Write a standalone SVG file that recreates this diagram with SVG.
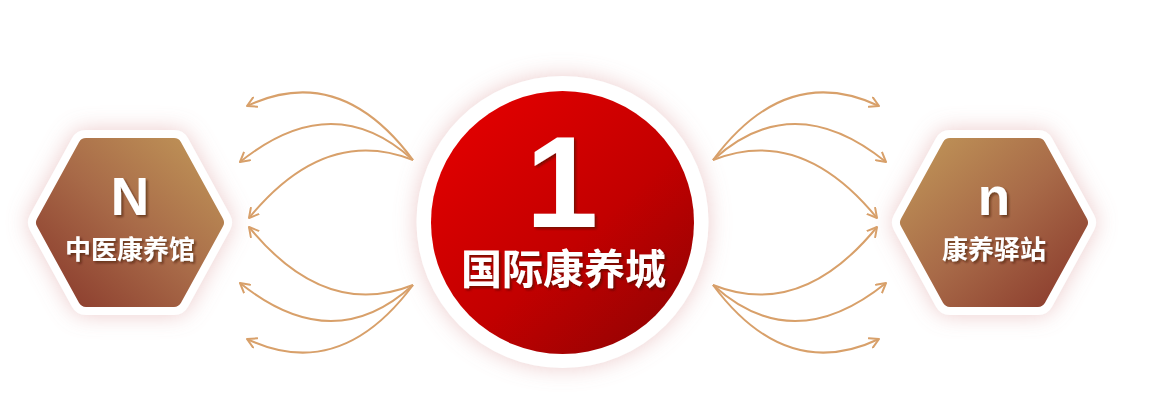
<svg xmlns="http://www.w3.org/2000/svg" width="1175" height="414" viewBox="0 0 1175 414">
  <style>
    .arrow { fill: none; stroke: #D8A06A; stroke-width: 2; marker-end: url(#head); }
    .cjk { font-family: "Noto Sans CJK SC", "Noto Sans", sans-serif; font-weight: 700; fill: #ffffff; text-anchor: middle; }
    .latin { font-family: "Liberation Sans", Arial, sans-serif; font-weight: 700; fill: #ffffff; text-anchor: middle; }
    .frame { fill: #ffffff; stroke: #ffffff; stroke-width: 32; stroke-linejoin: round; }
  </style>
  <defs>
    <marker id="head" viewBox="-10 -6 12 12" refX="0" refY="0" markerWidth="12" markerHeight="12" markerUnits="userSpaceOnUse" orient="auto">
      <path d="M-9,-5 L0,0 L-9,5" fill="none" stroke="#D8A06A" stroke-width="2" stroke-linecap="round" stroke-linejoin="round"/>
    </marker>
    <linearGradient id="gLeft" x1="0" y1="1" x2="1" y2="0">
      <stop offset="0" stop-color="#8A3A2C"/>
      <stop offset="0.5" stop-color="#A86A48"/>
      <stop offset="1" stop-color="#C09558"/>
    </linearGradient>
    <linearGradient id="gRight" x1="0" y1="0" x2="1" y2="1">
      <stop offset="0" stop-color="#C09558"/>
      <stop offset="0.5" stop-color="#A86A48"/>
      <stop offset="1" stop-color="#8A3A2C"/>
    </linearGradient>
    <linearGradient id="gRed" x1="0.15" y1="0.1" x2="0.9" y2="0.95">
      <stop offset="0" stop-color="#E00000"/>
      <stop offset="0.55" stop-color="#C20000"/>
      <stop offset="1" stop-color="#930303"/>
    </linearGradient>
    <filter id="glow" x="-40%" y="-40%" width="180%" height="180%">
      <feGaussianBlur in="SourceAlpha" stdDeviation="11" result="b"/>
      <feFlood flood-color="#D58C8C" flood-opacity="0.45"/>
      <feComposite in2="b" operator="in" result="g"/>
      <feMerge><feMergeNode in="g"/><feMergeNode in="SourceGraphic"/></feMerge>
    </filter>
    <filter id="tshadow" x="-20%" y="-20%" width="140%" height="140%">
      <feDropShadow dx="2" dy="2" stdDeviation="1.2" flood-color="#3A0A00" flood-opacity="0.55"/>
    </filter>
  </defs>

  <g id="connectors">
    <path class="arrow" d="M413,160 Q340,62 247,106"/>
    <path class="arrow" d="M413,160 Q333,87 240,162"/>
    <path class="arrow" d="M413,160 Q325,125 249,218"/>
    <path class="arrow" d="M413,285 Q325,320 249,227"/>
    <path class="arrow" d="M413,285 Q333,358 240,283"/>
    <path class="arrow" d="M413,285 Q340,383 247,339"/>
    <path class="arrow" d="M713,160 Q786,62 879,106"/>
    <path class="arrow" d="M713,160 Q793,87 886,162"/>
    <path class="arrow" d="M713,160 Q801,125 877,218"/>
    <path class="arrow" d="M713,285 Q801,320 877,227"/>
    <path class="arrow" d="M713,285 Q793,358 886,283"/>
    <path class="arrow" d="M713,285 Q786,383 879,339"/>
  </g>

  <g id="node-left">
    <polygon class="frame" filter="url(#glow)" points="44,222.5 86,146 174,146 216,222.5 174,299 86,299"/>
    <polygon fill="url(#gLeft)" stroke="url(#gLeft)" stroke-width="16" stroke-linejoin="round" points="44,222.5 86,146 174,146 216,222.5 174,299 86,299"/>
    <text class="latin" x="130" y="215" font-size="53" filter="url(#tshadow)">N</text>
    <text class="cjk" x="130" y="259" font-size="26" filter="url(#tshadow)">中医康养馆</text>
  </g>

  <g id="node-center">
    <circle cx="562.5" cy="222" r="146" fill="#ffffff" filter="url(#glow)"/>
    <circle cx="562.5" cy="222.5" r="131.5" fill="url(#gRed)"/>
    <text class="latin" x="562" y="227" font-size="130" filter="url(#tshadow)">1</text>
    <text class="cjk" x="563.5" y="284" font-size="41" filter="url(#tshadow)">国际康养城</text>
  </g>

  <g id="node-right">
    <polygon class="frame" filter="url(#glow)" points="908,222.5 950,146 1038,146 1080,222.5 1038,299 950,299"/>
    <polygon fill="url(#gRight)" stroke="url(#gRight)" stroke-width="16" stroke-linejoin="round" points="908,222.5 950,146 1038,146 1080,222.5 1038,299 950,299"/>
    <text class="latin" x="994" y="215" font-size="53" filter="url(#tshadow)">n</text>
    <text class="cjk" x="994" y="259" font-size="26" filter="url(#tshadow)">康养驿站</text>
  </g>
</svg>
